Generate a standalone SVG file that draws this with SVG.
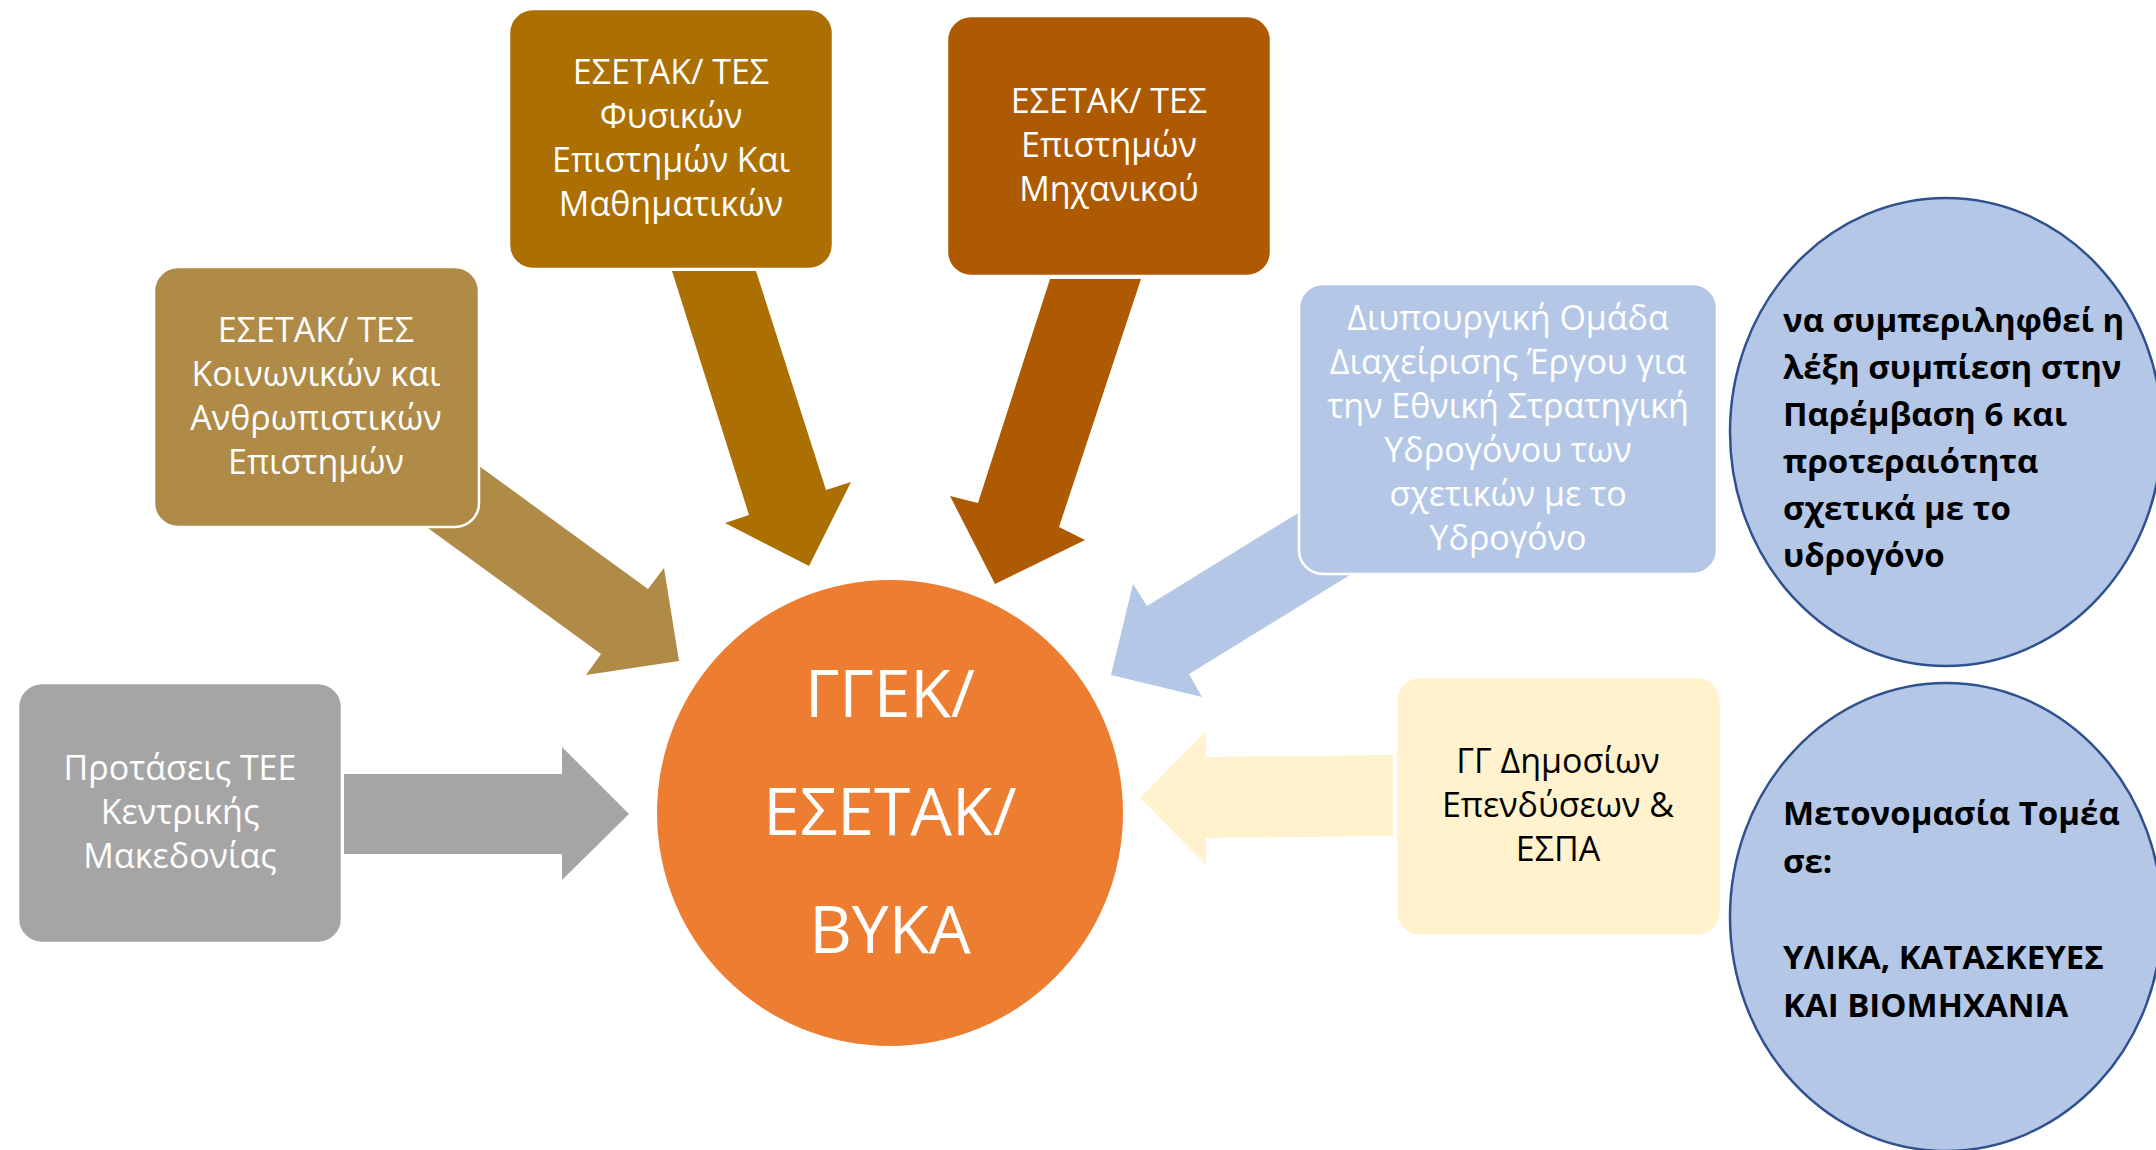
<svg xmlns="http://www.w3.org/2000/svg" width="2156" height="1150" viewBox="0 0 2156 1150">
<style>
.t{font-family:"Open Sans","Noto Sans",sans-serif;font-size:34px;fill:#fff;text-anchor:middle}
.dk{fill:#000}
.b{font-family:"Open Sans","Noto Sans",sans-serif;font-size:33px;font-weight:bold;fill:#000}
.c{font-family:"Open Sans","Noto Sans",sans-serif;font-size:66px;fill:#fff;text-anchor:middle}
.box{stroke:#fff;stroke-width:2.5}
.ell{fill:#B4C7E7;stroke:#2F528F;stroke-width:2.5}
</style>
<rect width="2156" height="1150" fill="#fff"/>
<g id="connectors">
<polygon points="399,507 601,654 586,675 679,661 664,568 648,589 446,442" fill="#AF8B47"/>
<polygon points="672,271 756,271 826,490 851,482 809,566 725,523 749,515" fill="#AB6F03"/>
<polygon points="1050,279 1141,279 1059,527 1085,540 995,584 950,496 978,503" fill="#AE5A02"/>
<polygon points="1368,470 1147,606 1133,584 1111,675 1202,697 1189,674 1410,538" fill="#B4C7E7"/>
<polygon points="344,774 562,774 562,747 629,814 562,880 562,854 344,854" fill="#A5A5A5"/>
<polygon points="1393,755 1206,757 1206,731 1140,798 1206,865 1206,838 1393,836" fill="#FFF2CC"/>
</g>
<g id="n-koinonikon">
<rect class="box" x="154" y="267" width="325" height="260" rx="24" fill="#AF8B47"/>
<text class="t" x="316" y="342">ΕΣΕΤΑΚ/ ΤΕΣ</text>
<text class="t" x="316" y="386">Κοινωνικών και</text>
<text class="t" x="316" y="430">Ανθρωπιστικών</text>
<text class="t" x="316" y="474">Επιστημών</text>
</g>
<g id="n-fysikon">
<rect class="box" x="509" y="9" width="324" height="260" rx="24" fill="#AB6F03"/>
<text class="t" x="671" y="84">ΕΣΕΤΑΚ/ ΤΕΣ</text>
<text class="t" x="671" y="128">Φυσικών</text>
<text class="t" x="671" y="172">Επιστημών Και</text>
<text class="t" x="671" y="216">Μαθηματικών</text>
</g>
<g id="n-mixanikou">
<rect class="box" x="947" y="16" width="324" height="260" rx="24" fill="#AE5A02"/>
<text class="t" x="1109" y="113">ΕΣΕΤΑΚ/ ΤΕΣ</text>
<text class="t" x="1109" y="157">Επιστημών</text>
<text class="t" x="1109" y="201">Μηχανικού</text>
</g>
<g id="n-diypourgiki">
<rect class="box" x="1299" y="284" width="418" height="290" rx="24" fill="#B4C7E7"/>
<text class="t" x="1508" y="330">Διυπουργική Ομάδα</text>
<text class="t" x="1508" y="374">Διαχείρισης Έργου για</text>
<text class="t" x="1508" y="418">την Εθνική Στρατηγική</text>
<text class="t" x="1508" y="462">Υδρογόνου των</text>
<text class="t" x="1508" y="506">σχετικών με το</text>
<text class="t" x="1508" y="550">Υδρογόνο</text>
</g>
<g id="n-tee">
<rect class="box" x="18" y="683" width="324" height="260" rx="24" fill="#A5A5A5"/>
<text class="t" x="180" y="780">Προτάσεις ΤΕΕ</text>
<text class="t" x="180" y="824">Κεντρικής</text>
<text class="t" x="180" y="868">Μακεδονίας</text>
</g>
<g id="n-gg">
<rect class="box" x="1396" y="677" width="325" height="259" rx="24" fill="#FFF2CC"/>
<text class="t dk" x="1558" y="773">ΓΓ Δημοσίων</text>
<text class="t dk" x="1558" y="817">Επενδύσεων &amp;</text>
<text class="t dk" x="1558" y="861">ΕΣΠΑ</text>
</g>
<g id="n-center">
<circle cx="890" cy="813" r="233" fill="#ED7D31"/>
<text class="c" x="890" y="717">ΓΓΕΚ/</text>
<text class="c" x="890" y="835">ΕΣΕΤΑΚ/</text>
<text class="c" x="890" y="953">ΒΥΚΑ</text>
</g>
<g id="n-note1">
<ellipse class="ell" cx="1946" cy="432" rx="216" ry="234"/>
<text class="b" x="1783" y="332">να συμπεριληφθεί η</text>
<text class="b" x="1783" y="379">λέξη συμπίεση στην</text>
<text class="b" x="1783" y="426">Παρέμβαση 6 και</text>
<text class="b" x="1783" y="473">προτεραιότητα</text>
<text class="b" x="1783" y="520">σχετικά με το</text>
<text class="b" x="1783" y="567">υδρογόνο</text>
</g>
<g id="n-note2">
<ellipse class="ell" cx="1946" cy="917" rx="216" ry="234"/>
<text class="b" x="1783" y="825">Μετονομασία Τομέα</text>
<text class="b" x="1783" y="873">σε:</text>
<text class="b" x="1783" y="969">ΥΛΙΚΑ, ΚΑΤΑΣΚΕΥΕΣ</text>
<text class="b" x="1783" y="1017">ΚΑΙ ΒΙΟΜΗΧΑΝΙΑ</text>
</g>
</svg>
